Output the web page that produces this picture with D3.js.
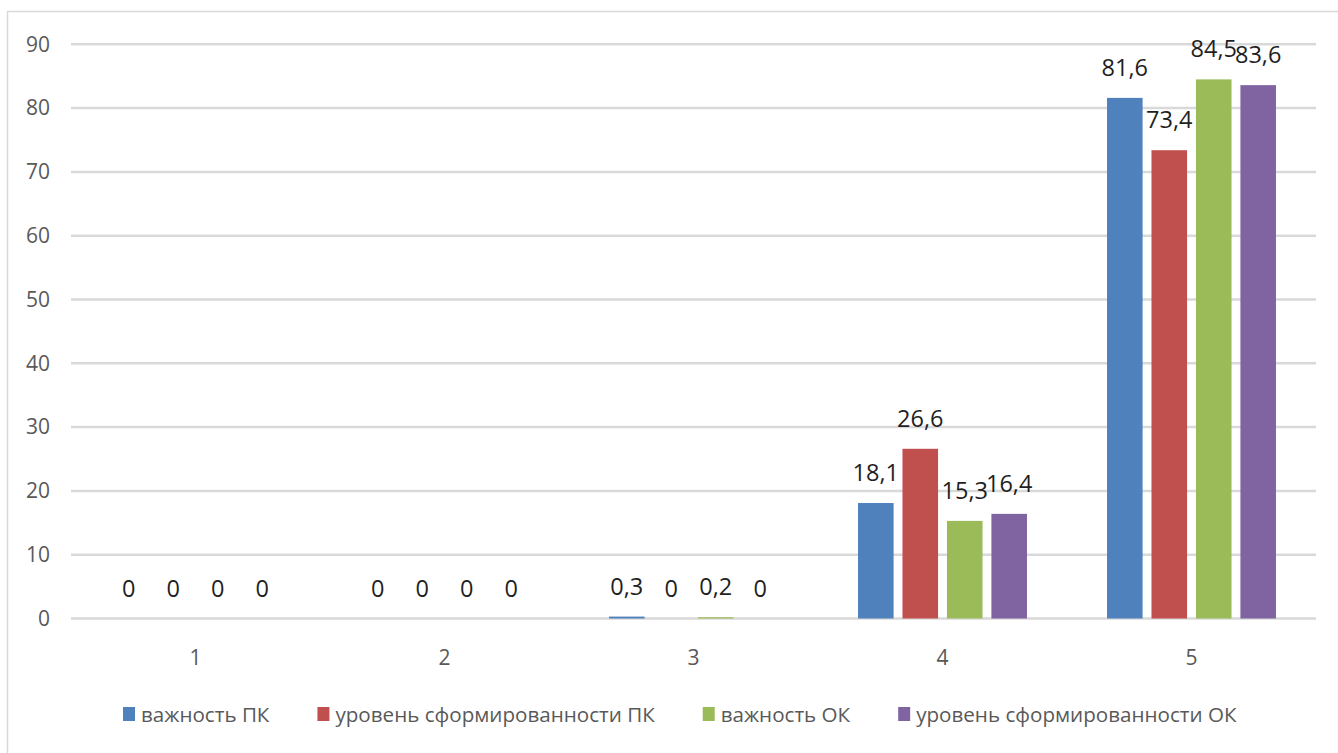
<!DOCTYPE html>
<html>
<head>
<meta charset="utf-8">
<script src="https://cdn.jsdelivr.net/npm/d3@7"></script>
<style>
  body { margin: 0; background: #fff; }
  svg { display: block; font-family: "Open Sans", "Noto Sans", sans-serif; }
</style>
</head>
<body>
<svg id="chart" width="1338" height="753"></svg>
<script>
const categories = ["1", "2", "3", "4", "5"];
const seriesNames = ["важность ПК", "уровень сформированности ПК", "важность ОК", "уровень сформированности ОК"];
const importancePK = [0, 0, 0.3, 18.1, 81.6];
const levelPK = [0, 0, 0, 26.6, 73.4];
const importanceOK = [0, 0, 0.2, 15.3, 84.5];
const levelOK = [0, 0, 0, 16.4, 83.6];
const seriesValues = [importancePK, levelPK, importanceOK, levelOK];
const colors = ["#4f81bd", "#c0504d", "#9bbb59", "#8064a2"];
const yTicks = [0, 10, 20, 30, 40, 50, 60, 70, 80, 90];

const svg = d3.select("#chart");

// chart frame
svg.append("rect")
  .attr("x", 7.5).attr("y", 11.5)
  .attr("width", 1345).attr("height", 760)
  .attr("fill", "#fff").attr("stroke", "#d9d9d9").attr("stroke-width", 1.5);

const plotLeft = 71, plotRight = 1316, plotTop = 44.3, plotBottom = 618.5;

const x0 = d3.scaleBand().domain(categories).range([plotLeft, plotRight]).padding(0);
const x1 = d3.scaleBand().domain(d3.range(seriesNames.length))
  .range([0, x0.bandwidth()]).paddingInner(0.2).paddingOuter(0.9);
const y = d3.scaleLinear().domain([0, 90]).range([plotBottom, plotTop]);

// gridlines
svg.append("g").selectAll("line").data(yTicks).join("line")
  .attr("x1", plotLeft).attr("x2", plotRight)
  .attr("y1", d => y(d)).attr("y2", d => y(d))
  .attr("stroke", "#d9d9d9").attr("stroke-width", 2.5);

// y tick labels
svg.append("g").selectAll("text").data(yTicks).join("text")
  .attr("x", 50).attr("y", d => y(d)).attr("dy", "0.35em")
  .attr("text-anchor", "end")
  .attr("fill", "#595959").attr("font-size", 21)
  .text(d => d);

// x category labels
svg.append("g").selectAll("text").data(categories).join("text")
  .attr("x", d => x0(d) + x0.bandwidth() / 2).attr("y", 665)
  .attr("text-anchor", "middle")
  .attr("fill", "#595959").attr("font-size", 21)
  .text(d => d);

const fmt = v => String(v).replace(".", ",");

// bars
seriesValues.forEach((vals, si) => {
  svg.append("g").selectAll("rect").data(vals).join("rect")
    .attr("x", (d, ci) => x0(categories[ci]) + x1(si))
    .attr("width", x1.bandwidth())
    .attr("y", d => y(d))
    .attr("height", d => Math.max(0, y(0) - y(d)))
    .attr("fill", colors[si]);
});

// data labels
seriesValues.forEach((vals, si) => {
  svg.append("g").selectAll("text").data(vals).join("text")
    .attr("x", (d, ci) => x0(categories[ci]) + x1(si) + x1.bandwidth() / 2)
    .attr("y", d => y(d) - 22)
    .attr("text-anchor", "middle")
    .attr("fill", "#1f1f1f").attr("font-size", 23.5)
    .text(d => fmt(d));
});

// legend
const legend = svg.append("g");
let lx = 123;
seriesNames.forEach((name, i) => {
  legend.append("rect")
    .attr("x", lx).attr("y", 707).attr("width", 12).attr("height", 14)
    .attr("fill", colors[i]);
  const t = legend.append("text")
    .attr("x", lx + 18).attr("y", 722)
    .attr("fill", "#595959").attr("font-size", 20.6)
    .text(name);
  const w = t.node().getComputedTextLength();
  lx = lx + 18 + w + 48;
});
</script>
</body>
</html>
